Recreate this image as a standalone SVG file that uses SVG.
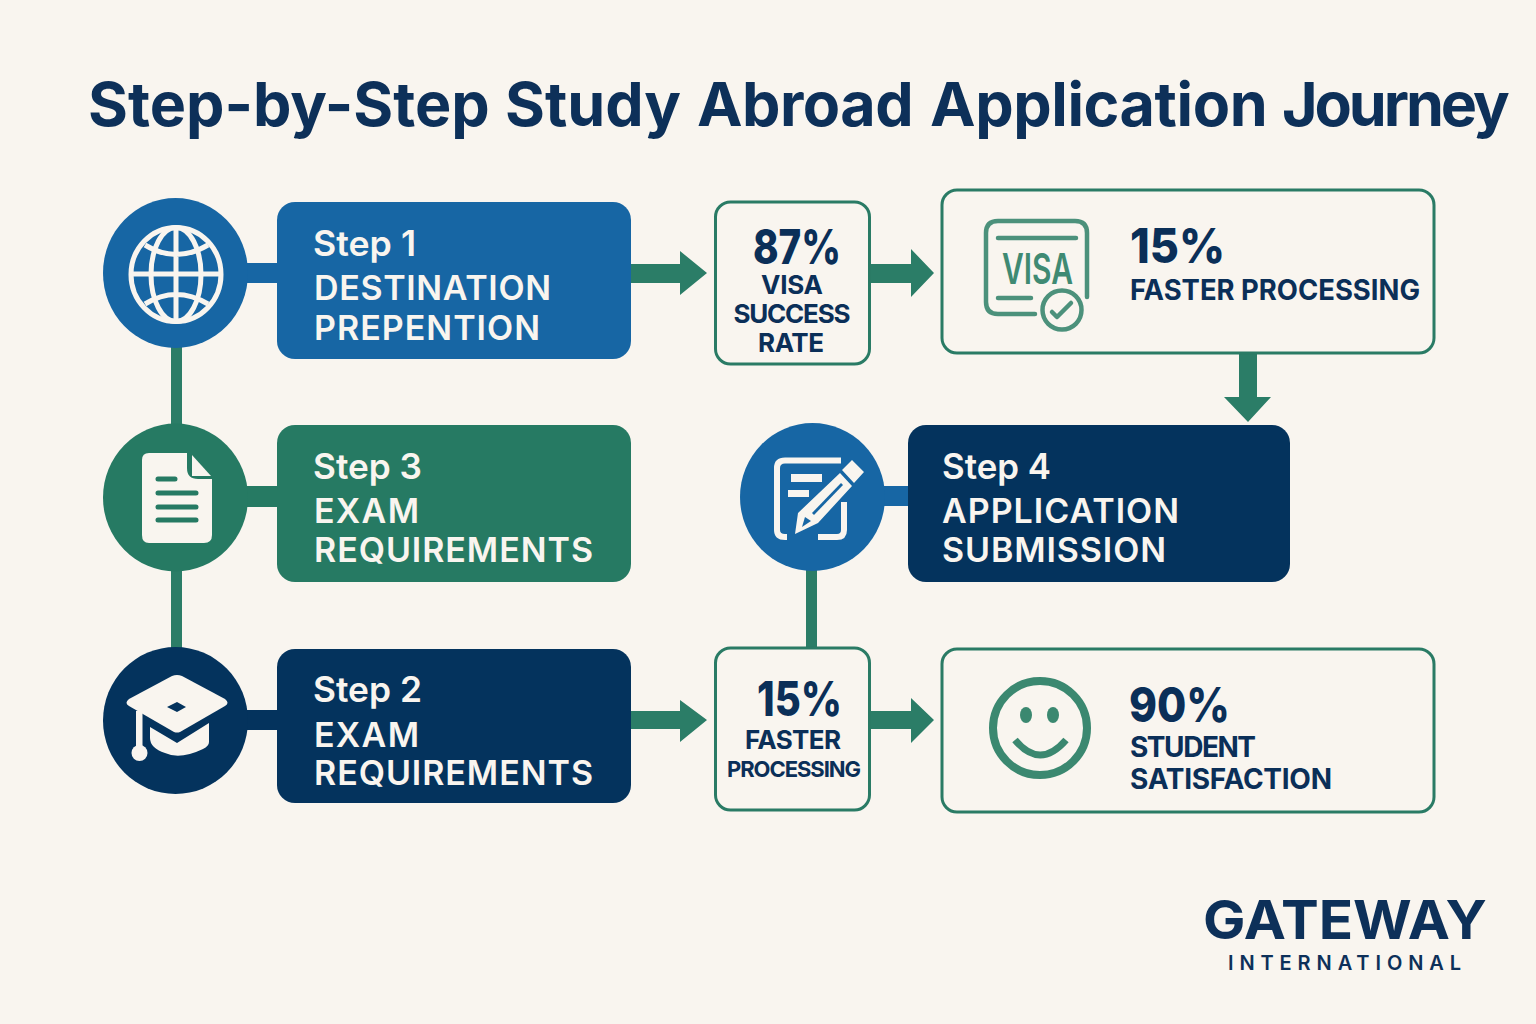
<svg xmlns="http://www.w3.org/2000/svg" width="1536" height="1024" viewBox="0 0 1536 1024">
<style>
text{font-family:Inter,"Liberation Sans",sans-serif}
.w{fill:#f9f5ef;font-weight:600}
.s{font-size:35px}
.b{font-size:34px}
.n{fill:#0b2f58;font-weight:650}
.big{fill:#0b2f58;font-weight:800;font-size:48px}
.box{fill:#f9f5ef;stroke:#2a7b65;stroke-width:3}
.c{fill:#2b7d67}
.ic{fill:#f9f5ef}
</style>
<rect width="1536" height="1024" fill="#f9f5ef"/>
<text x="88" y="126" font-size="61" font-weight="700" fill="#0d3059"><tspan x="88">Step-by-Step</tspan> <tspan x="505">Study</tspan> <tspan x="697" style="letter-spacing:-.5px">Abroad</tspan> <tspan x="930" style="letter-spacing:-.4px">Application</tspan> <tspan x="1282" style="letter-spacing:-3.100px">Journey</tspan></text>
<g id="connectors">
<rect class="c" x="171" y="340" width="11" height="92"/>
<rect class="c" x="171" y="565" width="11" height="90"/>
<rect class="c" x="806" y="565" width="11" height="84"/>
<rect x="240" y="263" width="45" height="20" fill="#1766a4"/>
<rect x="240" y="486" width="45" height="21" fill="#267a63"/>
<rect x="240" y="710" width="45" height="20" fill="#04335d"/>
<rect x="880" y="486" width="35" height="20" fill="#1766a4"/>
<path class="c" d="M631 264H680V251L707 273L680 295V283H631Z"/>
<path class="c" d="M867 264H911V249L934 273L911 297V283H867Z"/>
<path class="c" d="M631 711H680V700L707 720L680 742V729H631Z"/>
<path class="c" d="M867 711H911V698L934 720L911 743V729H867Z"/>
<path class="c" d="M1239 352H1257V397H1271L1248 422L1224 397H1239Z"/>
</g>
<g id="step1">
<ellipse cx="175.500" cy="273" rx="72.500" ry="75" fill="#1766a4"/>
<g fill="none" stroke="#f9f5ef" stroke-width="5">
<ellipse cx="176" cy="274.500" rx="45" ry="47"/>
<ellipse cx="176" cy="274.500" rx="25" ry="47"/>
<path d="M176 228V321M131 274H221M145 245Q176 264 208 245M145 304Q176 285 208 304"/>
</g>
<rect x="277" y="202" width="354" height="157" rx="18" fill="#1766a4"/>
<text class="w s" x="313" y="256" textLength="103" lengthAdjust="spacingAndGlyphs">Step 1</text>
<text class="w b" x="314" y="300" textLength="237">DESTINATION</text>
<text class="w b" x="314" y="340" textLength="226">PREPENTION</text>
</g>
<g id="step3">
<ellipse cx="175.500" cy="497.500" rx="72.500" ry="74" fill="#267a63"/>
<path class="ic" d="M149 453H187V468Q187 479 198 479H212V535Q212 543 204 543H149Q142 543 142 535V460Q142 453 149 453Z"/>
<path class="ic" d="M192 455L211 476H192Z"/>
<g stroke="#267a63" stroke-width="5" stroke-linecap="round">
<path d="M158 479H175M158 493H196M158 507H196M158 520H196"/>
</g>
<rect x="277" y="425" width="354" height="157" rx="18" fill="#267a63"/>
<text class="w s" x="313" y="479" textLength="109" lengthAdjust="spacingAndGlyphs">Step 3</text>
<text class="w b" x="314" y="523" textLength="105">EXAM</text>
<text class="w b" x="314" y="562" textLength="279">REQUIREMENTS</text>
</g>
<g id="step2">
<ellipse cx="175.500" cy="720.500" rx="72.500" ry="73.500" fill="#04335d"/>
<path class="ic" d="M172 676Q177 674 182 676L225 699Q230 703 225 706L180 732Q177 733 174 732L129 706Q124 703 129 699Z"/>
<path class="ic" d="M150 727L177 743L209 723V742Q209 746 203 749Q180 760 165 753Q150 748 150 738Z"/>
<path d="M167 707L177 702L186 707L177 712Z" fill="#04335d"/>
<rect class="ic" x="136" y="711" width="6.500" height="38"/>
<circle class="ic" cx="139.500" cy="753" r="8"/>
<rect x="277" y="649" width="354" height="154" rx="18" fill="#04335d"/>
<text class="w s" x="313" y="702" textLength="109" lengthAdjust="spacingAndGlyphs">Step 2</text>
<text class="w b" x="314" y="747" textLength="105">EXAM</text>
<text class="w b" x="314" y="785" textLength="279">REQUIREMENTS</text>
</g>
<g id="stat87">
<rect class="box" x="715.500" y="202" width="154" height="162" rx="15"/>
<text class="big" x="753" y="264" textLength="88" lengthAdjust="spacingAndGlyphs">87%</text>
<text class="n" font-size="26" x="792" y="294" text-anchor="middle" textLength="62">VISA</text>
<text class="n" font-size="26" x="792" y="323" text-anchor="middle" textLength="117">SUCCESS</text>
<text class="n" font-size="26" x="791" y="352" text-anchor="middle" textLength="66">RATE</text>
</g>
<g id="visa">
<rect class="box" x="942" y="190" width="492" height="163" rx="15"/>
<g fill="none" stroke="#4c917b" stroke-width="4.500" stroke-linecap="round" stroke-linejoin="round">
<path d="M1035 314H998Q986 314 986 302V233Q986 221 998 221H1075Q1087 221 1087 233V297"/>
<path d="M998 238H1076M998 298H1031"/>
<circle cx="1062" cy="310" r="19.500"/>
<path d="M1052 312L1057 317L1071 303"/>
</g>
<text x="1037.500" y="284" font-size="42" font-weight="600" fill="#3f8a73" text-anchor="middle" textLength="71" lengthAdjust="spacingAndGlyphs">VISA</text>
<text class="big" x="1130" y="263" textLength="95" lengthAdjust="spacingAndGlyphs">15%</text>
<text class="n" font-size="28" x="1130" y="300" textLength="290" lengthAdjust="spacingAndGlyphs">FASTER PROCESSING</text>
</g>
<g id="step4">
<ellipse cx="812.500" cy="497" rx="72.500" ry="74" fill="#1766a4"/>
<g fill="none" stroke="#f9f5ef" stroke-width="6">
<path d="M841 460.500H785Q777 460.500 777 468V530Q777 537 785 537H787"/>
<path d="M844 502V530Q844 537 837 537H818"/>
</g>
<path class="ic" d="M791 474H822V482H791ZM788 490H809V497H788Z"/>
<path class="ic" d="M852 460L864 472L854 483L842 470ZM840 473L852 486L818 523L795 534L798 513Z"/>
<path d="M812 513L841 483L843 485L814 515Z" fill="#1766a4"/>
<path d="M802 527L805 517L811 521Z" fill="#1766a4"/>
<rect x="908" y="425" width="382" height="157" rx="18" fill="#04335d"/>
<text class="w s" x="942" y="479" textLength="109" lengthAdjust="spacingAndGlyphs">Step 4</text>
<text class="w b" x="942" y="523" textLength="237">APPLICATION</text>
<text class="w b" x="942" y="562" textLength="224">SUBMISSION</text>
</g>
<g id="stat15">
<rect class="box" x="715.500" y="648" width="154" height="162" rx="15"/>
<text class="big" x="757" y="716" textLength="85" lengthAdjust="spacingAndGlyphs">15%</text>
<text class="n" font-size="26" x="793" y="749" text-anchor="middle" textLength="96">FASTER</text>
<text class="n" font-size="22" x="794" y="777" text-anchor="middle" textLength="134">PROCESSING</text>
</g>
<g id="satisfaction">
<rect class="box" x="942" y="649" width="492" height="163" rx="15"/>
<circle cx="1040" cy="728" r="47" fill="none" stroke="#3b8870" stroke-width="8"/>
<ellipse cx="1026" cy="715" rx="6" ry="8" fill="#3b8870"/>
<ellipse cx="1053" cy="715" rx="6" ry="8" fill="#3b8870"/>
<path d="M1015 740Q1040 770 1066 740" fill="none" stroke="#3b8870" stroke-width="7"/>
<text class="big" x="1129" y="722" textLength="101" lengthAdjust="spacingAndGlyphs">90%</text>
<text class="n" font-size="28" x="1130" y="757" textLength="126">STUDENT</text>
<text class="n" font-size="28" x="1130" y="789" textLength="202">SATISFACTION</text>
</g>
<g id="logo">
<text x="1203" y="939" font-size="54" font-weight="700" fill="#0d3059" textLength="284" lengthAdjust="spacingAndGlyphs">GATEWAY</text>
<text x="1228" y="970" font-size="20" font-weight="600" fill="#0d3059" textLength="233">INTERNATIONAL</text>
</g>
</svg>
